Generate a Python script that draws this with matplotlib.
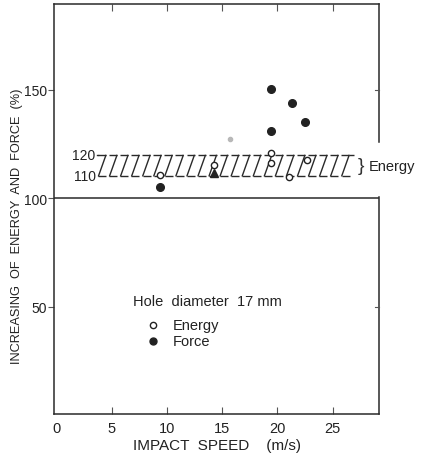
import numpy as np
import matplotlib
matplotlib.use("Agg")
import matplotlib.pyplot as plt
from matplotlib.collections import LineCollection

plt.rcParams['font.family'] = ['Liberation Sans', 'DejaVu Sans']

# Data
energy_x = [9.4, 14.3, 19.4, 19.4, 21.05, 22.7]
energy_y = [110.7, 115.4, 121.0, 116.1, 109.9, 117.7]
force_x = [9.4, 19.4, 19.4, 21.3, 22.5]
force_y = [105.0, 150.3, 130.9, 143.7, 135.2]
force_tri_x = [14.3]
force_tri_y = [111.6]
faint_x = [15.7]
faint_y = [127.1]
band_low, band_high = 110, 120
band_x0, band_x1 = 3.8, 26.9
xticks = [0, 5, 10, 15, 20, 25]
yticks = [50, 100, 150]

fig = plt.figure(figsize=(4.26, 4.60), dpi=100)
ax = fig.add_axes([0.127, 0.098, 0.763, 0.891])
xmin, xmax = -0.2, 29.2
ymin, ymax = 0.5, 189.5
ax.set_xlim(xmin, xmax)
ax.set_ylim(ymin, ymax)

lc = '#2a2a2a'
tc = '#222222'
for s in ['left', 'bottom', 'top']:
    ax.spines[s].set_color(lc)
    ax.spines[s].set_linewidth(1.1)
ax.spines['right'].set_visible(False)

def yf(v):
    return (v - ymin) / (ymax - ymin)

ax.plot([1, 1], [yf(126), 1], transform=ax.transAxes, color=lc, lw=1.1, clip_on=False)
ax.plot([1, 1], [0, yf(100.5)], transform=ax.transAxes, color=lc, lw=1.1, clip_on=False)
ax.axhline(100, color=lc, lw=1.1)

ax.set_xticks(xticks)
ax.set_xticklabels([str(t) for t in xticks])
ax.set_yticks(yticks)
ax.set_yticklabels([str(t) for t in yticks])
ax.tick_params(axis='x', direction='in', length=5, width=0.8, colors='#555555',
               labelcolor=tc, labelsize=10.5, pad=5, top=True)
ax.tick_params(axis='y', direction='out', length=4, width=0.8, colors='#555555',
               labelcolor=tc, labelsize=10, pad=1)
ax.xaxis.get_major_ticks()[0].tick1line.set_visible(False)
ax.xaxis.get_major_ticks()[0].tick2line.set_visible(False)
for yv in [50, 150]:
    ax.plot([xmax - 0.35, xmax], [yv, yv], color='#555555', lw=0.8, clip_on=False)

# hatched band drawn as a row of "Z" strokes
step = 1.0
slant = 0.7
d = 0.72
segs = []
starts = np.arange(band_x0, band_x1 - slant + 0.01, step)
for x0 in starts:
    segs.append([(x0, band_low), (x0 + slant, band_high)])
    segs.append([(x0 + slant - d, band_high), (x0 + slant, band_high)])
    segs.append([(x0, band_low), (min(x0 + d, band_x1), band_low)])
segs.append([(starts[-1] + slant, band_high), (band_x1, band_high)])
ax.add_collection(LineCollection(segs, colors=lc, linewidths=1.0))
ax.plot([band_x0 - 0.15, band_x0 + slant - d], [band_high, band_high], color=lc, lw=1.0)

ax.text(band_x0 - 0.25, band_high, '120', ha='right', va='center', fontsize=10,
        color=tc)
ax.text(band_x0 - 0.25, band_low, '110', ha='right', va='center', fontsize=10,
        color=tc)
ax.text(27.55, (band_low + band_high) / 2, '}', ha='center', va='center',
        fontsize=14, color='#333333', clip_on=False)
ax.text(28.3, (band_low + band_high) / 2, 'Energy', ha='left', va='center',
        fontsize=10.5, color=tc, clip_on=False)

# points
ax.plot(force_x, force_y, 'o', color=tc, ms=5.5, zorder=5)
ax.plot(force_tri_x, force_tri_y, '^', color=tc, ms=5.5, zorder=5)
ax.plot(faint_x, faint_y, 'o', color='#b8b8b8', ms=3, zorder=5)
ax.plot(energy_x, energy_y, 'o', mfc='white', mec=tc, mew=1.0, ms=4.5, zorder=6)

# legend
ax.text(6.9, 52.7, 'Hole  diameter  17 mm', ha='left', va='center', fontsize=10.5,
        color=tc)
ax.plot([8.75], [41.7], 'o', mfc='white', mec=tc, mew=1.0, ms=4.5)
ax.plot([8.75], [33.9], 'o', color=tc, ms=5)
ax.text(10.5, 41.7, 'Energy', ha='left', va='center', fontsize=10.5, color=tc)
ax.text(10.5, 33.9, 'Force', ha='left', va='center', fontsize=10.5, color=tc)

ax.set_xlabel('IMPACT  SPEED    (m/s)', fontsize=11, color=tc, labelpad=2)
ax.set_ylabel('INCREASING  OF  ENERGY  AND  FORCE  (%)', fontsize=9.2,
              color=tc, labelpad=2)
ax.yaxis.set_label_coords(-0.095, 0.46)

fig.savefig('out.png', dpi=100)
